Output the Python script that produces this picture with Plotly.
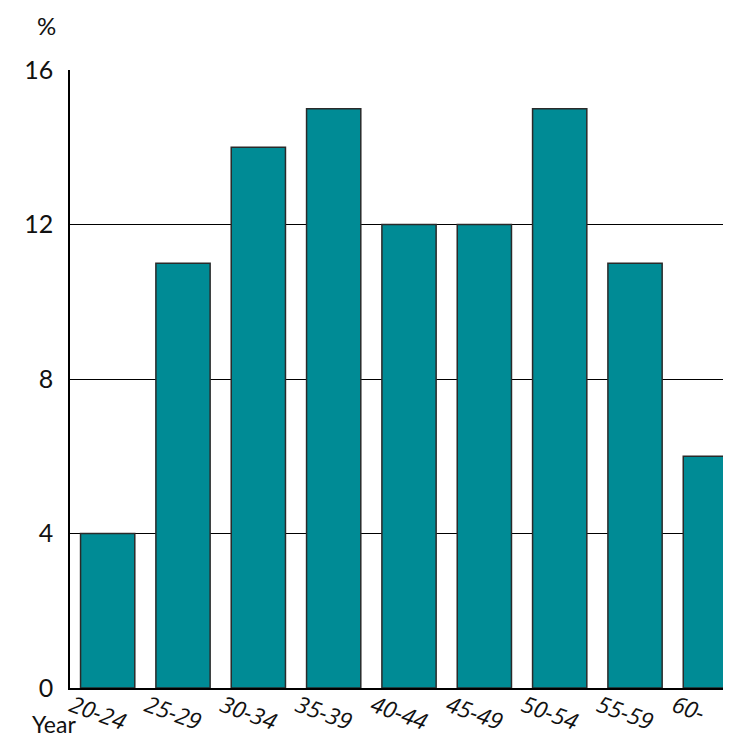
import plotly.graph_objects as go

categories = ["20-24", "25-29", "30-34", "35-39", "40-44", "45-49", "50-54", "55-59", "60-"]
values = [4, 11, 14, 15, 12, 12, 15, 11, 6]
y_ticks = [0, 4, 8, 12, 16]

fig = go.Figure(go.Bar(
    x=categories, y=values,
    marker=dict(color="#008b95", line=dict(color="#2a2a2a", width=1.5)),
))

fig.update_layout(
    width=731, height=737,
    margin=dict(l=62, r=0, t=62, b=57),
    paper_bgcolor="white", plot_bgcolor="white",
    bargap=0.28,
    showlegend=False,
    font=dict(family="Lato, DejaVu Sans, sans-serif", color="#111", size=24),
)
fig.update_xaxes(
    range=[-0.5, 8.38],
    showgrid=False, showline=True, linecolor="black", linewidth=1.5,
    ticks="", tickangle=20,
    tickfont=dict(size=23, style="italic", family="Open Sans, DejaVu Sans, sans-serif"),
    ticklabelshift=-36, ticklabelstandoff=-6,
)
fig.update_yaxes(
    range=[0, 16], tickvals=y_ticks,
    showgrid=True, gridcolor="black", gridwidth=1,
    showline=True, linecolor="black", linewidth=1.5,
    zeroline=False, ticks="", ticklabelstandoff=10,
    tickfont=dict(size=25),
)
fig.add_annotation(text="%", xref="paper", yref="paper", x=-0.035, y=1.0,
                   yshift=28, showarrow=False, xanchor="center", yanchor="bottom",
                   font=dict(size=24))
fig.add_annotation(text="Year", xref="paper", yref="paper", x=-0.06, y=0,
                   yshift=-52, showarrow=False, xanchor="left", yanchor="bottom",
                   font=dict(size=23))

fig.write_html("out.html")
